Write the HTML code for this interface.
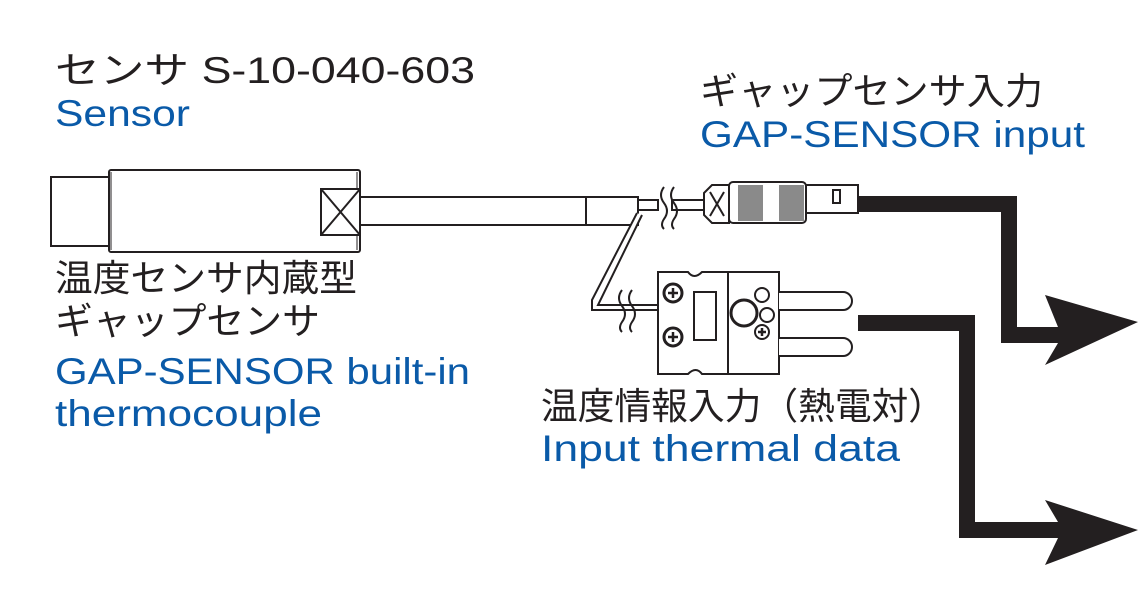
<!DOCTYPE html>
<html><head><meta charset="utf-8"><style>
html,body{margin:0;padding:0;background:#fff;}
svg{display:block;}
text{font-family:"Liberation Sans","Noto Sans CJK JP",sans-serif;font-size:37px;}
.k{fill:#231f20;}
.b{fill:#0a5aa8;}
</style></head><body>
<svg width="1142" height="602" viewBox="0 0 1142 602" xmlns="http://www.w3.org/2000/svg">
<g stroke="#231f20" stroke-width="2" fill="#fff">
  <rect x="51" y="177" width="58" height="69"/>
  <rect x="109" y="170" width="251" height="82" rx="2"/>
  <line x1="111" y1="172" x2="111" y2="250" stroke-width="1"/>
  <line x1="357" y1="172" x2="357" y2="250" stroke-width="1"/>
  <rect x="321" y="189" width="39" height="46"/>
  <line x1="321" y1="189" x2="360" y2="235"/>
  <line x1="360" y1="189" x2="321" y2="235"/>
  <rect x="360" y="197" width="278" height="28"/>
  <line x1="586" y1="197" x2="586" y2="225"/>
  <rect x="638" y="200" width="20" height="10"/>
  <rect x="672" y="200" width="32" height="10"/>
  <path d="M664 187 q-6 8 0 16 q6 8 0 16 q-4 6 0 10" fill="none"/>
  <path d="M674 187 q-6 8 0 16 q6 8 0 16 q-4 6 0 10" fill="none"/>
  <path d="M637 213 L592 300 L592 310 L658 310 L658 305 L598 305 L642 215" fill="#fff"/>
  <path d="M622 290 q-6 8 0 16 q6 8 0 16 q-4 6 0 10" fill="none"/>
  <path d="M632 290 q-6 8 0 16 q6 8 0 16 q-4 6 0 10" fill="none"/>
  <path d="M704 193 L712 185 L729 185 L729 223 L712 223 L704 215 Z" fill="#fff"/>
  <line x1="710" y1="192" x2="724" y2="216"/><line x1="724" y1="192" x2="710" y2="216"/>
  <rect x="729" y="182" width="77" height="41" rx="4"/>
  <rect x="738" y="185" width="25" height="36" fill="#8a8a8a" stroke="none"/>
  <rect x="779" y="185" width="25" height="36" fill="#8a8a8a" stroke="none"/>
  <rect x="806" y="185" width="52" height="28"/>
  <rect x="833" y="190" width="7" height="13"/>
  <path d="M658 272 H688 q6 8 14 0 H779 V374 H702 q-6 -8 -14 0 H658 Z"/>
  <line x1="728" y1="272" x2="728" y2="374"/>
  <rect x="694" y="292" width="22" height="48"/>
  <circle cx="744" cy="313" r="13" stroke-width="3"/>
  <circle cx="762" cy="295" r="7"/>
  <circle cx="767" cy="315" r="7"/>
  <circle cx="762" cy="332" r="7"/>
  <circle cx="673" cy="293" r="9" stroke-width="3"/>
  <circle cx="673" cy="337" r="9" stroke-width="3"/>
  <path d="M779 292 H843 a9 9 0 0 1 0 18 H779" />
  <path d="M779 338 H843 a9 9 0 0 1 0 18 H779" />
</g>
<g stroke="#231f20" stroke-width="2.5">
  <line x1="668" y1="293" x2="678" y2="293"/><line x1="673" y1="288" x2="673" y2="298"/>
  <line x1="668" y1="337" x2="678" y2="337"/><line x1="673" y1="332" x2="673" y2="342"/>
  <line x1="758" y1="332" x2="766" y2="332"/><line x1="762" y1="328" x2="762" y2="336"/>
</g>
<g fill="#231f20">
  <path d="M858 196 H1017 V327 H1058 L1045 295 L1138 322 L1045 365 L1058 343 H1001 V212 H858 Z"/>
  <path d="M858 315 H975 V522 H1058 L1045 500 L1138 530 L1045 565 L1058 538 H959 V331 H858 Z"/>
</g>
<text class="k" x="55" y="83" textLength="420" lengthAdjust="spacingAndGlyphs">センサ S-10-040-603</text>
<text class="b" x="55" y="126" textLength="135" lengthAdjust="spacingAndGlyphs">Sensor</text>
<text class="k" x="700" y="104" textLength="343" lengthAdjust="spacingAndGlyphs">ギャップセンサ入力</text>
<text class="b" x="700" y="147" textLength="385" lengthAdjust="spacingAndGlyphs">GAP-SENSOR input</text>
<text class="k" x="55" y="291" textLength="302" lengthAdjust="spacingAndGlyphs">温度センサ内蔵型</text>
<text class="k" x="55" y="334" textLength="265" lengthAdjust="spacingAndGlyphs">ギャップセンサ</text>
<text class="b" x="55" y="384" textLength="415" lengthAdjust="spacingAndGlyphs">GAP-SENSOR built-in</text>
<text class="b" x="55" y="426" textLength="267" lengthAdjust="spacingAndGlyphs">thermocouple</text>
<text class="k" x="541" y="419" textLength="404" lengthAdjust="spacingAndGlyphs">温度情報入力（熱電対）</text>
<text class="b" x="541" y="461" textLength="359" lengthAdjust="spacingAndGlyphs">Input thermal data</text>
</svg>
</body></html>
